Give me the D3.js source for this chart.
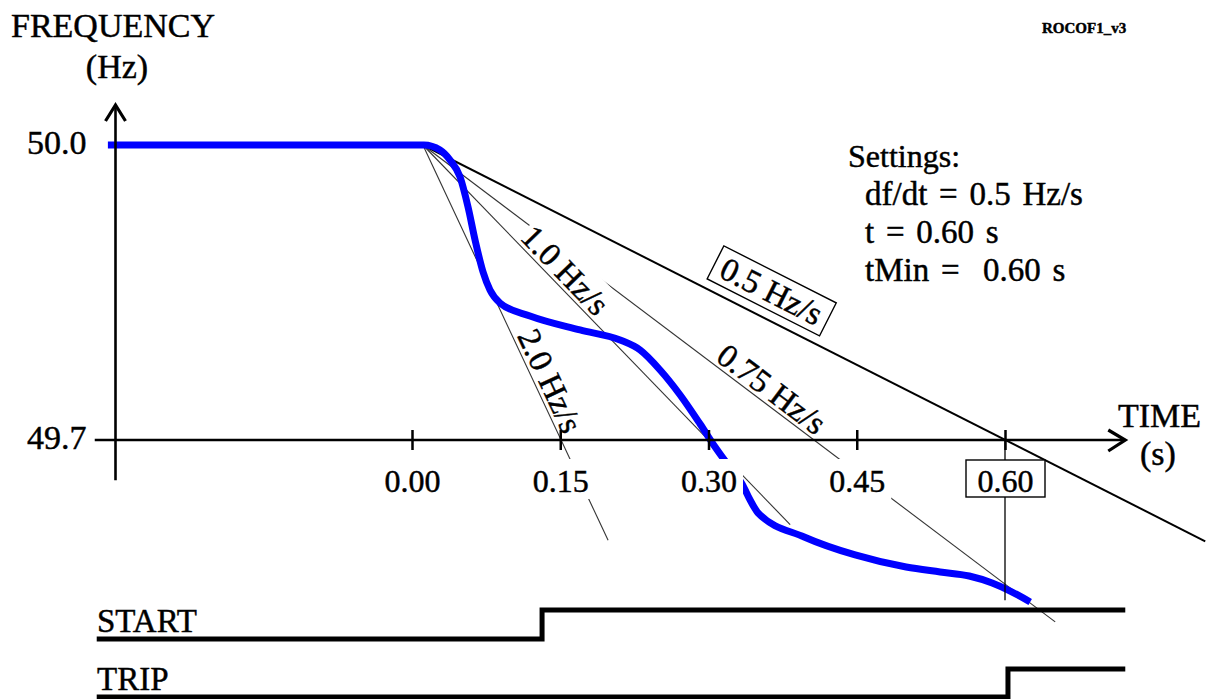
<!DOCTYPE html>
<html><head><meta charset="utf-8">
<script src="https://cdn.jsdelivr.net/npm/d3@7"></script>
<style>
html,body{margin:0;padding:0;background:#fff;}
svg{display:block;font-family:"Liberation Serif","Times New Roman",serif;}
text{stroke:#000;stroke-width:0.45px;}
</style></head><body>
<svg id="chart" width="1215" height="699"></svg>
<script>
// ---------------- data ----------------
const freqTickValues = [49.7, 50.0];
const freqTickLabels = ["49.7", "50.0"];
const timeTickValues = [0.00, 0.15, 0.30, 0.45, 0.60];
const timeTickLabels = ["0.00", "0.15", "0.30", "0.45", "0.60"];

// measured frequency curve (s, Hz)
const curveTime = [-0.3077, 0.0121, 0.0283, 0.0385, 0.0486, 0.0567, 0.0638, 0.0719, 0.0789, 0.0891,
  0.1194, 0.1700, 0.2105, 0.2308, 0.2510, 0.2713, 0.2915, 0.3067, 0.3198, 0.3340,
  0.3421, 0.3502, 0.3968, 0.4484, 0.5000, 0.5344, 0.5638, 0.5870, 0.6053, 0.6255];
const curveFreq = [50.000, 50.000, 49.9949, 49.9847, 49.9675, 49.9369, 49.9034, 49.8708, 49.8525, 49.8393,
  49.8261, 49.8119, 49.8017, 49.7915, 49.7712, 49.7458, 49.7163, 49.6929, 49.6746, 49.6553,
  49.6390, 49.6258, 49.6014, 49.5831, 49.5708, 49.5658, 49.5617, 49.5546, 49.5464, 49.5353];

// reference ramps (df/dt)
const rampRates = [0.5, 0.75, 1.0, 2.0];
const rampLabels = ["0.5 Hz/s", "0.75 Hz/s", "1.0 Hz/s", "2.0 Hz/s"];
const rampStartTime = 0.011;
const rampStartFreq = 50.0;
const rampEndTime = [0.8026, 0.6508, 0.3826, 0.1984];
const rampEndFreq = [49.597, 49.515, 49.614, 49.598];

// binary signals
const startSignalTime = [-0.319, 0.1316, 0.1316, 0.7217];
const startSignalState = [0, 0, 1, 1];
const tripSignalTime = [-0.319, 0.603, 0.603, 0.7217];
const tripSignalState = [0, 0, 1, 1];
const tripMarkTime = 0.60;
const tripMarkFreqLow = 49.537;

const settingsLines = ["Settings:", "df/dt = 0.5 Hz/s", "t = 0.60 s", "tMin =  0.60 s"];

// ---------------- layout ----------------
const FONT = '"Liberation Serif","Times New Roman",serif';
const svg = d3.select("#chart");
const x = d3.scaleLinear().domain([0, 0.6]).range([412, 1005]);
const y = d3.scaleLinear().domain([49.7, 50.0]).range([440, 145]);
const yStartSig = d3.scaleLinear().domain([0, 1]).range([639, 610]);
const yTripSig = d3.scaleLinear().domain([0, 1]).range([697, 669]);
const axisTimeMin = -0.321, axisTimeMax = 0.7217, yAxisTime = -0.30;
const axisFreqMin = 49.659, axisFreqMax = 50.0407;

const ramps = rampRates.map((r, i) => ({
  rate: r, label: rampLabels[i],
  x0: x(rampStartTime), y0: y(rampStartFreq),
  x1: x(rampEndTime[i]), y1: y(rampEndFreq[i])
}));
const rampStyle = [{w: 2, c: "#000"}, {w: 1.1, c: "#333"}, {w: 1.1, c: "#333"}, {w: 1.1, c: "#333"}];

const gLines = svg.append("g");
gLines.selectAll("line").data(ramps).join("line")
  .attr("x1", d => d.x0).attr("y1", d => d.y0)
  .attr("x2", d => d.x1).attr("y2", d => d.y1)
  .attr("stroke", (d, i) => rampStyle[i].c)
  .attr("stroke-width", (d, i) => rampStyle[i].w);

// blue curve
const curveData = curveTime.map((t, i) => [t, curveFreq[i]]);
svg.append("path").datum(curveData)
  .attr("d", d3.line().x(d => x(d[0])).y(d => y(d[1])).curve(d3.curveMonotoneX))
  .attr("fill", "none").attr("stroke", "#0000ff").attr("stroke-width", 7)
  .attr("stroke-linejoin", "round");

// trip time drop line
svg.append("line")
  .attr("x1", x(tripMarkTime)).attr("x2", x(tripMarkTime))
  .attr("y1", y(49.7)).attr("y2", y(tripMarkFreqLow))
  .attr("stroke", "#000").attr("stroke-width", 1.3);

// ramp labels
const labelCfg = [
  {anchor: 0.2945, boxed: true},
  {anchor: 0.3036},
  {anchor: 0.1053, bg: true},
  {anchor: 0.1022}
];
ramps.forEach((d, i) => {
  const cfg = labelCfg[i];
  const px = x(cfg.anchor);
  const frac = (px - d.x0) / (d.x1 - d.x0);
  const py = d.y0 + frac * (d.y1 - d.y0);
  const deg = Math.atan2(d.y1 - d.y0, d.x1 - d.x0) * 180 / Math.PI;
  const g = svg.append("g").attr("transform", `translate(${px},${py}) rotate(${deg})`);
  if (cfg.boxed) {
    g.append("rect").attr("x", 0).attr("y", -46).attr("width", 126).attr("height", 37)
      .attr("fill", "#fff").attr("stroke", "#000").attr("stroke-width", 1.4);
    g.append("text").attr("x", 63).attr("y", -16).attr("text-anchor", "middle")
      .attr("font-family", FONT).attr("font-size", 33).text(d.label);
  } else {
    const bg = g.append("rect");
    const t = g.append("text").attr("x", 0).attr("y", -4)
      .attr("font-family", FONT).attr("font-size", 33).text(d.label);
    if (cfg.bg) {
      const len = t.node().getComputedTextLength();
      bg.attr("x", -2).attr("y", -36).attr("width", len + 4).attr("height", 34.5).attr("fill", "#fff");
    } else bg.remove();
  }
});

// x axis
const gx = svg.append("g").attr("transform", `translate(0,${y(49.7)})`)
  .call(d3.axisBottom(x).tickValues(timeTickValues).tickFormat((d, i) => timeTickLabels[i]).tickSize(10).tickSizeOuter(0));
gx.attr("font-family", null).attr("font-size", null);
gx.select(".domain").remove();
gx.selectAll(".tick line").attr("y1", -10).attr("y2", 10).attr("stroke", "#000").attr("stroke-width", 2.5);
gx.selectAll(".tick text").attr("y", 52).attr("dy", null).attr("fill", "#000")
  .attr("font-family", FONT).attr("font-size", 32);
gx.selectAll(".tick").each(function (d, i) {
  const tk = d3.select(this);
  const txt = tk.select("text");
  const bb = txt.node().getBBox();
  if (d === tripMarkTime) {
    tk.insert("rect", "text").attr("x", -39.5).attr("y", 20).attr("width", 79).attr("height", 37)
      .attr("fill", "#fff").attr("stroke", "#000").attr("stroke-width", 1.4);
  } else {
    tk.insert("rect", "text").attr("x", bb.x - 6).attr("y", 19).attr("width", bb.width + 12).attr("height", 40)
      .attr("fill", "#fff");
  }
});
svg.append("line")
  .attr("x1", x(axisTimeMin)).attr("x2", x(axisTimeMax))
  .attr("y1", y(49.7)).attr("y2", y(49.7))
  .attr("stroke", "#000").attr("stroke-width", 2.6);
svg.append("polyline")
  .attr("points", `${x(axisTimeMax) - 17},${y(49.7) - 10} ${x(axisTimeMax)},${y(49.7)} ${x(axisTimeMax) - 17},${y(49.7) + 11}`)
  .attr("fill", "none").attr("stroke", "#000").attr("stroke-width", 3.2);

// y axis
const gy = svg.append("g").attr("transform", `translate(${x(yAxisTime)},0)`)
  .call(d3.axisLeft(y).tickValues(freqTickValues).tickFormat((d, i) => freqTickLabels[i]).tickSize(0).tickPadding(29));
gy.attr("font-family", null).attr("font-size", null);
gy.select(".domain").remove();
gy.selectAll(".tick text").attr("dy", "0.26em").attr("fill", "#000")
  .attr("font-family", FONT).attr("font-size", 34);
svg.append("line")
  .attr("x1", x(yAxisTime)).attr("x2", x(yAxisTime))
  .attr("y1", y(axisFreqMax)).attr("y2", y(axisFreqMin))
  .attr("stroke", "#000").attr("stroke-width", 2.6);
svg.append("polyline")
  .attr("points", `${x(yAxisTime) - 10},${y(axisFreqMax) + 16} ${x(yAxisTime)},${y(axisFreqMax)} ${x(yAxisTime) + 10},${y(axisFreqMax) + 16}`)
  .attr("fill", "none").attr("stroke", "#000").attr("stroke-width", 3.2);

// signals
const sigLine = (ys) => d3.line().x(d => x(d[0])).y(d => ys(d[1])).curve(d3.curveLinear);
svg.append("path").datum(startSignalTime.map((t, i) => [t, startSignalState[i]]))
  .attr("d", sigLine(yStartSig)).attr("fill", "none").attr("stroke", "#000").attr("stroke-width", 5)
  .attr("stroke-linejoin", "miter");
svg.append("path").datum(tripSignalTime.map((t, i) => [t, tripSignalState[i]]))
  .attr("d", sigLine(yTripSig)).attr("fill", "none").attr("stroke", "#000").attr("stroke-width", 5)
  .attr("stroke-linejoin", "miter");

// texts
const txt = (s, xx, yy, size, opts = {}) => svg.append("text").attr("x", xx).attr("y", yy)
  .attr("font-family", FONT).attr("font-size", size)
  .attr("text-anchor", opts.anchor || "start")
  .attr("font-weight", opts.weight || "normal")
  .style("word-spacing", (opts.ws || 0) + "px")
  .style("white-space", "pre").text(s);
txt("FREQUENCY", 11, 37, 34);
txt("(Hz)", 117, 78, 34, {anchor: "middle"});
txt("TIME", 1118, 427, 34);
txt("(s)", 1158, 465, 34, {anchor: "middle"});
txt("START", 97, 632, 33);
txt("TRIP", 97, 690, 33);
txt("ROCOF1_v3", 1042, 33, 15, {weight: "bold"});
txt(settingsLines[0], 848, 167, 32);
settingsLines.slice(1).forEach((s, i) => txt(s, 865, 205 + i * 38, 33, {ws: 3.5}));
</script>
</body></html>
